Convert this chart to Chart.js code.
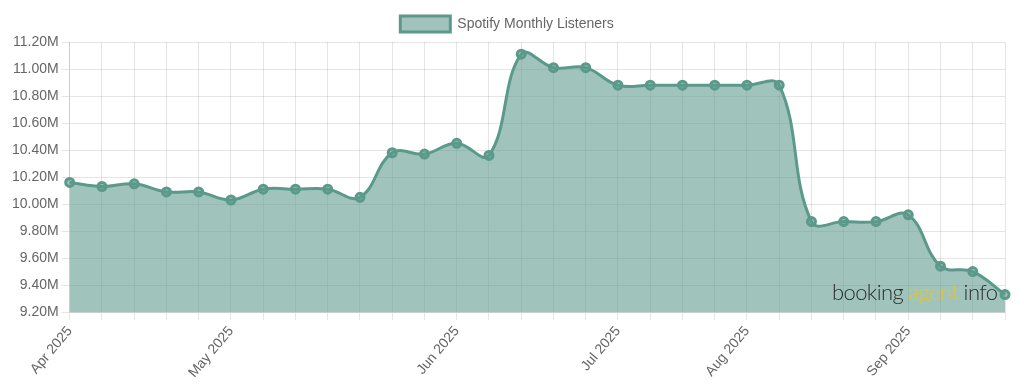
<!DOCTYPE html>
<html>
<head>
<meta charset="utf-8">
<script src="https://cdn.jsdelivr.net/npm/chart.js@4.4.0/dist/chart.umd.min.js"></script>
<style>
  html, body { margin: 0; padding: 0; background: #fff; }
  #wrap { position: relative; width: 1024px; height: 392px; }
  #watermark {
    position: absolute; left: 832px; top: 278px;
    font-family: Lato, sans-serif; font-size: 22px; font-weight: 300;
    color: #2e2e2e; letter-spacing: -0.6px; white-space: nowrap;
  }
  #watermark span { color: #e6c234; }
</style>
</head>
<body>
<div id="wrap">
  <canvas id="grafico" width="1024" height="392"></canvas>
  <div id="watermark">booking <span>agent</span> info</div>
</div>
<script>
const labels = [
  'Apr 2025', '', '', '', '', 'May 2025', '', '', '', '', '', '',
  'Jun 2025', '', '', '', '', 'Jul 2025', '', '', '', 'Aug 2025', '', '', '', '',
  'Sep 2025', '', '', ''
];

const listeners = [
  10.16, 10.13, 10.15, 10.09, 10.09, 10.03, 10.11, 10.11, 10.11, 10.05,
  10.38, 10.37, 10.45, 10.36, 11.11, 11.01, 11.01, 10.88, 10.88, 10.88,
  10.88, 10.88, 10.88, 9.87, 9.87, 9.87, 9.92, 9.54, 9.50, 9.33
].map(v => v * 1e6);

const yMin = 9.2e6;
const yMax = 11.2e6;
const yStep = 0.2e6;

const lineColor = 'rgb(91, 154, 139)';
const fillColor = 'rgba(91, 154, 139, 0.58)';

Chart.defaults.font.family = '"Liberation Sans", Arial, sans-serif';
Chart.defaults.color = '#666';

const ctx = document.getElementById('grafico').getContext('2d');
new Chart(ctx, {
  type: 'line',
  data: {
    labels: labels,
    datasets: [{
      label: 'Spotify Monthly Listeners',
      data: listeners,
      borderColor: lineColor,
      backgroundColor: fillColor,
      borderWidth: 3,
      fill: true,
      tension: 0.4,
      pointRadius: 4,
      pointBorderWidth: 3,
      pointBackgroundColor: fillColor,
      pointBorderColor: lineColor
    }]
  },
  options: {
    responsive: false,
    animation: false,
    layout: { padding: { left: 9, right: 19, top: 5, bottom: 8 } },
    plugins: {
      legend: {
        labels: {
          font: { size: 14 },
          boxWidth: 50,
          boxHeight: 16,
          padding: 11
        }
      },
      tooltip: { enabled: false }
    },
    scales: {
      y: {
        min: yMin,
        max: yMax,
        ticks: {
          stepSize: yStep,
          font: { size: 14 },
          callback: v => (v / 1e6).toFixed(2) + 'M'
        },
        grid: { color: 'rgba(0,0,0,0.1)' }
      },
      x: {
        ticks: {
          autoSkip: false,
          maxRotation: 50,
          minRotation: 50,
          font: { size: 14 }
        },
        grid: { color: 'rgba(0,0,0,0.1)' }
      }
    }
  }
});
</script>
</body>
</html>
